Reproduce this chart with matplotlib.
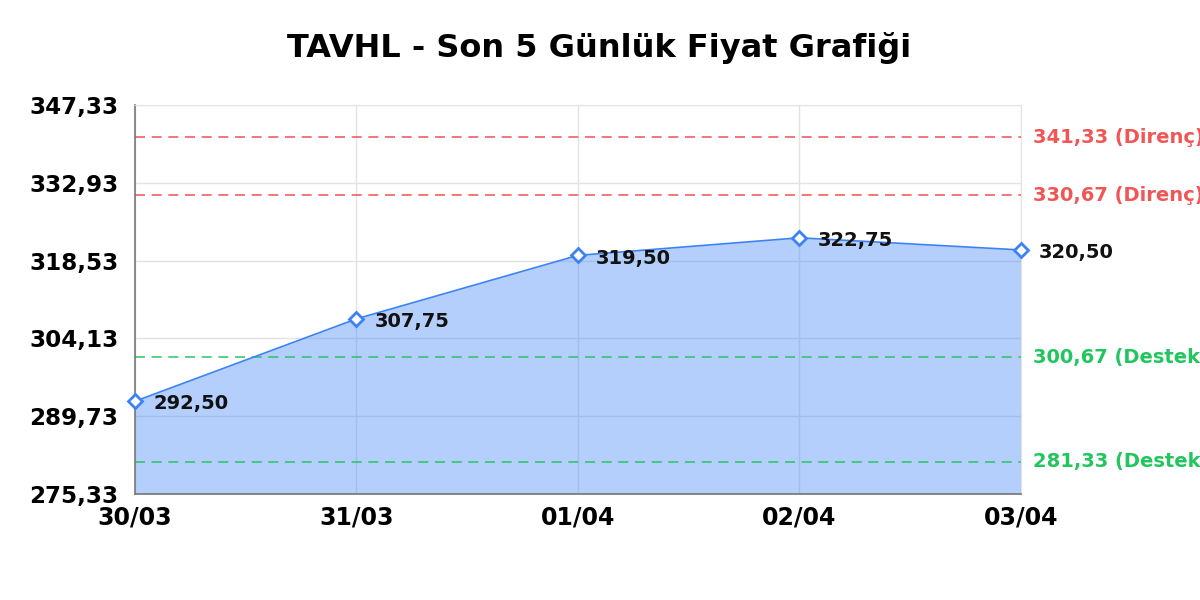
import matplotlib
matplotlib.use("Agg")
import matplotlib.pyplot as plt

plt.rcParams["font.family"] = ["DejaVu Sans"]

# ── DATA ──────────────────────────────────────────────────────────────
tarihler = ["30/03", "31/03", "01/04", "02/04", "03/04"]
fiyatlar = [292.50, 307.75, 319.50, 322.75, 320.50]
direnc = [341.33, 330.67]
destek = [300.67, 281.33]
y_ticks = [275.33, 289.73, 304.13, 318.53, 332.93, 347.33]

BLUE = "#3b82f6"
RED = "#ef4444"
GREEN = "#22c55e"

def fmt(v):
    return f"{v:.2f}".replace(".", ",")

fig = plt.figure(figsize=(12, 6), dpi=100)
ax = fig.add_axes([0.1125, 0.1767, 0.7383, 0.6483])

x = list(range(len(tarihler)))
ax.fill_between(x, fiyatlar, y_ticks[0], color=BLUE, alpha=0.38, lw=0, zorder=1)
ax.plot(x, fiyatlar, color=BLUE, lw=1.2, zorder=3)
ax.plot(x, fiyatlar, ls="none", marker="D", ms=7, mfc="white", mec=BLUE,
        mew=2, zorder=4, clip_on=False)

for xi, v in zip(x, fiyatlar):
    ax.annotate(fmt(v), (xi, v), xytext=(13, -2), textcoords="offset points",
                ha="left", va="center", fontsize=14, fontweight="bold",
                color="#111111", zorder=5, annotation_clip=False)

for v in direnc:
    ax.axhline(v, color=RED, ls=(0, (6, 4)), lw=1.2, alpha=0.85, zorder=2)
    ax.annotate(f"{fmt(v)} (Direnç)", (1, v), xycoords=("axes fraction", "data"),
                xytext=(8.5, 0), textcoords="offset points", ha="left", va="center",
                fontsize=14, fontweight="bold", color=RED, alpha=0.9)
for v in destek:
    ax.axhline(v, color=GREEN, ls=(0, (6, 4)), lw=1.2, alpha=0.9, zorder=2)
    ax.annotate(f"{fmt(v)} (Destek)", (1, v), xycoords=("axes fraction", "data"),
                xytext=(8.5, 0), textcoords="offset points", ha="left", va="center",
                fontsize=14, fontweight="bold", color=GREEN)

ax.set_xlim(0, len(tarihler) - 1)
ax.set_ylim(y_ticks[0], y_ticks[-1])
ax.set_xticks(x)
ax.set_xticklabels(tarihler, fontsize=17, fontweight="bold")
ax.set_yticks(y_ticks)
ax.set_yticklabels([fmt(t) for t in y_ticks], fontsize=16.6, fontweight="bold")
ax.tick_params(length=0, pad=8)
ax.tick_params(axis="y", pad=12)

ax.grid(True, color="#e3e3e3", lw=1, zorder=0)
ax.set_axisbelow(True)
for s in ["top", "right"]:
    ax.spines[s].set_color("#e3e3e3")
for s in ["left", "bottom"]:
    ax.spines[s].set_color("#777777")
    ax.spines[s].set_linewidth(1.2)

fig.suptitle("TAVHL - Son 5 Günlük Fiyat Grafiği", fontsize=23,
             fontweight="bold", x=0.499, y=0.947)

fig.savefig("out.png", dpi=100, facecolor="white")
